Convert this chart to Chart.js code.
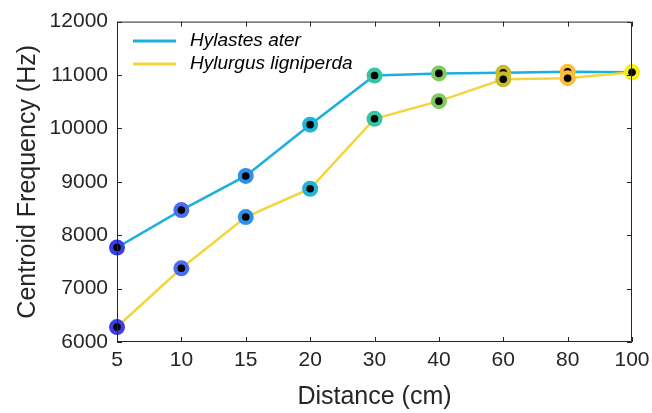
<!DOCTYPE html>
<html>
<head>
<meta charset="utf-8">
<script src="https://cdn.jsdelivr.net/npm/chart.js@4.4.1/dist/chart.umd.min.js"></script>
<style>
  html, body { margin: 0; padding: 0; background: #fff; }
</style>
</head>
<body>
<canvas id="chart" width="652" height="413"></canvas>
<script>
const distances = ['5', '10', '15', '20', '30', '40', '60', '80', '100'];
const hylastesAter = [7770, 8470, 9110, 10070, 10990, 11030, 11040, 11060, 11050];
const hylurgusLigniperda = [6280, 7380, 8340, 8870, 10180, 10510, 10920, 10940, 11050];
const seriesNames = ['Hylastes ater', 'Hylurgus ligniperda'];
const yMin = 6000, yMax = 12000, yStep = 1000;

// parula-like marker colours, one per distance
const markerColors = ['#3b3de6', '#4a6cf2', '#2f8fe8', '#1fb5d8', '#34c5a2', '#7dcc5d', '#c9bc2b', '#fbbd3b', '#f5ef14'];
const lineColors = ['#1aafdc', '#f3d63c'];
const axisColor = '#262626';
const fontFamily = '"Liberation Sans", Arial, sans-serif';

const ctx = document.getElementById('chart');

// box, inward ticks and legend like matlab
const matlabAxes = {
    id: 'matlabAxes',
    afterDraw(chart) {
        const c = chart.ctx;
        const a = chart.chartArea;
        const xs = chart.scales.x, ys = chart.scales.y;
        c.save();
        c.strokeStyle = axisColor;
        c.lineWidth = 1;
        c.beginPath();
        c.moveTo(a.left + 0.5, a.top + 0.5);
        c.lineTo(a.right - 0.5, a.top + 0.5);
        c.lineTo(a.right - 0.5, a.bottom - 0.5);
        c.lineTo(a.left + 0.5, a.bottom - 0.5);
        c.closePath();
        c.stroke();
        const tl = 5;
        c.beginPath();
        xs.ticks.forEach((t, i) => {
            const px = Math.round(xs.getPixelForTick(i)) + 0.5;
            c.moveTo(px, a.bottom); c.lineTo(px, a.bottom - tl);
            c.moveTo(px, a.top); c.lineTo(px, a.top + tl);
        });
        ys.ticks.forEach((t, i) => {
            const py = Math.round(ys.getPixelForTick(i)) + 0.5;
            c.moveTo(a.left, py); c.lineTo(a.left + tl, py);
            c.moveTo(a.right, py); c.lineTo(a.right - tl, py);
        });
        c.stroke();

        // legend
        c.font = 'italic 19px ' + fontFamily;
        c.textBaseline = 'middle';
        c.fillStyle = '#000';
        c.lineWidth = 3;
        seriesNames.forEach((name, i) => {
            const y = 41 + i * 23;
            c.strokeStyle = lineColors[i];
            c.beginPath();
            c.moveTo(133, y); c.lineTo(176, y);
            c.stroke();
            c.fillText(name, 190, y);
        });
        c.restore();
    }
};

function colouredSeries(label, data, color, order) {
    return {
        label: label,
        data: data,
        borderColor: color,
        borderWidth: 2.5,
        pointBackgroundColor: markerColors,
        pointBorderColor: markerColors,
        pointRadius: 8,
        pointBorderWidth: 0,
        tension: 0,
        order: order
    };
}

function dotSeries(data, order) {
    return {
        label: '',
        data: data,
        showLine: false,
        pointBackgroundColor: '#000',
        pointBorderWidth: 0,
        pointRadius: 3.8,
        order: order
    };
}

new Chart(ctx, {
    type: 'line',
    data: {
        labels: distances,
        datasets: [
            dotSeries(hylurgusLigniperda, 1),
            colouredSeries(seriesNames[1], hylurgusLigniperda, lineColors[1], 2),
            dotSeries(hylastesAter, 3),
            colouredSeries(seriesNames[0], hylastesAter, lineColors[0], 4)
        ]
    },
    options: {
        responsive: false,
        animation: false,
        devicePixelRatio: 1,
        layout: { padding: { top: 16, right: 20, left: 0, bottom: 0 } },
        plugins: {
            legend: { display: false },
            tooltip: { enabled: false }
        },
        scales: {
            x: {
                offset: false,
                grid: { display: false, drawTicks: false },
                border: { display: false },
                ticks: {
                    color: axisColor,
                    padding: 6,
                    maxRotation: 0,
                    font: { family: fontFamily, size: 21 }
                },
                title: {
                    display: true,
                    text: 'Distance (cm)',
                    color: axisColor,
                    padding: { top: 0, bottom: 1 },
                    font: { family: fontFamily, size: 25, lineHeight: 1.2 }
                },
                afterFit(scale) {
                    scale.height = 71;
                    scale.paddingLeft = 0;
                    scale.paddingRight = 0;
                }
            },
            y: {
                min: yMin,
                max: yMax,
                grid: { display: false, drawTicks: false },
                border: { display: false },
                ticks: {
                    stepSize: yStep,
                    color: axisColor,
                    padding: 9,
                    font: { family: fontFamily, size: 21 },
                    callback: (v) => String(v)
                },
                title: {
                    display: true,
                    text: 'Centroid Frequency (Hz)',
                    color: axisColor,
                    padding: { top: 13, bottom: 0 },
                    font: { family: fontFamily, size: 25, lineHeight: 1.2 }
                },
                afterFit(scale) { scale.width = 117; }
            }
        }
    },
    plugins: [matlabAxes]
});
</script>
</body>
</html>
